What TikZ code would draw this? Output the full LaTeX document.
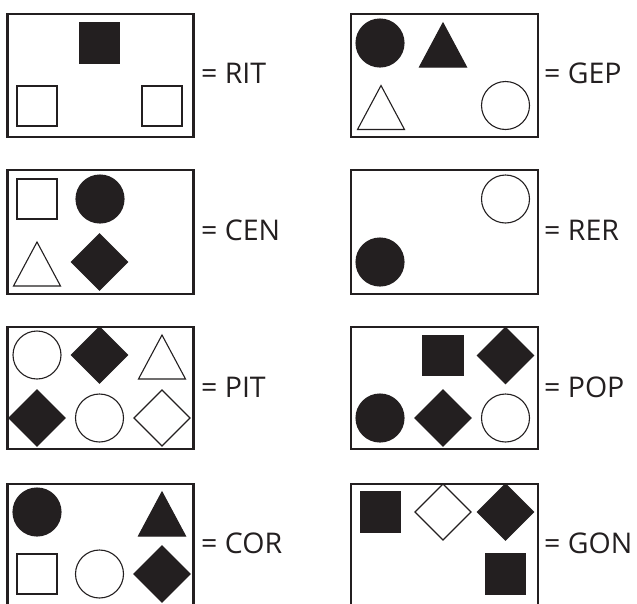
\documentclass[tikz,border=0pt]{standalone}
\usepackage{fontspec}
\setmainfont{Open Sans}
\usetikzlibrary{shapes.geometric}
\definecolor{ink}{HTML}{231F20}
\tikzset{
  frame/.style={draw=ink, line width=2.8pt, fill=white},
  shp/.style={draw=ink, line width=1.1pt, inner sep=0pt, outer sep=0pt},
  fb/.style={shp, fill=ink},
  ob/.style={shp, fill=white},
  sq/.style={rectangle, minimum size=40pt},
  ci/.style={circle, minimum size=48pt},
  di/.style={diamond, minimum width=56pt, minimum height=56pt},
  lbl/.style={anchor=base west, inner sep=0pt, font=\fontsize{28.5pt}{30pt}\selectfont, text=ink},
  tri/.pic={\path[pic actions] (0,-22) -- (23.5,22) -- (-23.5,22) -- cycle;}
}
\begin{document}
\begin{tikzpicture}[x=1pt,y=-1pt]
\useasboundingbox (0,0) rectangle (637,603);
\clip (0,0) rectangle (637,603);
\fill[white] (0,0) rectangle (637,603);
% ---- frames
\node[frame, anchor=north west, minimum width=186pt, minimum height=123pt, inner sep=0pt] (b1) at (6,12.5) {};
\node[frame, anchor=north west, minimum width=187pt, minimum height=123pt, inner sep=0pt] (b2) at (349.5,12.5) {};
\node[frame, anchor=north west, minimum width=186pt, minimum height=124pt, inner sep=0pt] (b3) at (6,168.5) {};
\node[frame, anchor=north west, minimum width=187pt, minimum height=124pt, inner sep=0pt] (b4) at (349.5,168.5) {};
\node[frame, anchor=north west, minimum width=186pt, minimum height=122pt, inner sep=0pt] (b5) at (6,325.5) {};
\node[frame, anchor=north west, minimum width=187pt, minimum height=122pt, inner sep=0pt] (b6) at (349.5,325.5) {};
\node[frame, anchor=north west, minimum width=186pt, minimum height=160pt, inner sep=0pt] (b7) at (6,482.5) {};
\node[frame, anchor=north west, minimum width=187pt, minimum height=160pt, inner sep=0pt] (b8) at (349.5,482.5) {};
% ---- labels
\node[lbl] (t1) at (201,83) {= RIT};
\node[lbl] (t2) at (544,83) {= GEP};
\node[lbl] (t3) at (201,240) {= CEN};
\node[lbl] (t4) at (544,240) {= RER};
\node[lbl] (t5) at (201,397) {= PIT};
\node[lbl] (t6) at (544,397) {= POP};
\node[lbl] (t7) at (201,553) {= COR};
\node[lbl] (t8) at (544,553) {= GON};
% ---- RIT
\node[fb,sq] (r1a) at (99.5,43) {};
\node[ob,sq] (r1b) at (37,106) {};
\node[ob,sq] (r1c) at (162,106) {};
% ---- GEP
\node[fb,ci] (g1) at (380,43) {};
\pic[fb] (g2) at (443,45) {tri};
\pic[ob] (g3) at (381,107.5) {tri};
\node[ob,ci] (g4) at (505.5,105.5) {};
% ---- CEN
\node[ob,sq] (c1) at (37,199) {};
\node[fb,ci] (c2) at (100,199) {};
\pic[ob] (c3) at (37,264) {tri};
\node[fb,di] (c4) at (99.5,262) {};
% ---- RER
\node[ob,ci] (e1) at (505.5,199) {};
\node[fb,ci] (e2) at (380,262) {};
% ---- PIT
\node[ob,ci] (p1) at (37,355) {};
\node[fb,di] (p2) at (99.5,355) {};
\pic[ob] (p3) at (162,357) {tri};
\node[fb,di] (p4) at (37,418) {};
\node[ob,ci] (p5) at (99.5,418) {};
\node[ob,di] (p6) at (162,418) {};
% ---- POP
\node[fb,sq] (o1) at (443,355.5) {};
\node[fb,di] (o2) at (505.5,355.5) {};
\node[fb,ci] (o3) at (380,418) {};
\node[fb,di] (o4) at (443,418) {};
\node[ob,ci] (o5) at (505.5,418) {};
% ---- COR
\node[fb,ci] (k1) at (37,512) {};
\pic[fb] (k2) at (162,514) {tri};
\node[ob,sq] (k3) at (37,574) {};
\node[ob,ci] (k4) at (99.5,574) {};
\node[fb,di] (k5) at (162,574) {};
% ---- GON
\node[fb,sq] (n1) at (380.5,512) {};
\node[ob,di] (n2) at (443,512) {};
\node[fb,di] (n3) at (505.5,512) {};
\node[fb,sq] (n4) at (505.5,574) {};
\end{tikzpicture}
\end{document}
